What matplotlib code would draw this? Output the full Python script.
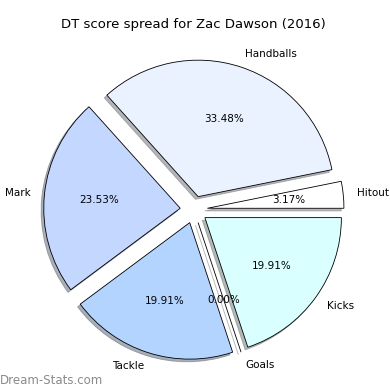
import matplotlib
matplotlib.use('Agg')
import matplotlib.pyplot as plt

labels = ['Hitout', 'Handballs', 'Mark', 'Tackle', 'Goals', 'Kicks']
points = [7, 74, 52, 44, 0, 44]
colors = ['#ffffff', '#eaf1ff', '#c4d7ff', '#b3d4ff', '#c8e8ff', '#d9ffff']
explode = [0.1] * len(labels)

fig = plt.figure(figsize=(3.9, 3.9), dpi=100)
ax = fig.add_axes([0.052, 0.025, 0.89, 0.875])

wedges, texts, autotexts = ax.pie(points, labels=labels, colors=colors, explode=explode,
                                  autopct='%1.2f%%', startangle=0,
                                  shadow=dict(ox=-0.014, oy=-0.014, shade=0.55),
                                  wedgeprops=dict(edgecolor='black', linewidth=0.6),
                                  textprops=dict(fontsize=7.5))
ax.set_aspect('equal')
ax.set_title('DT score spread for Zac Dawson (2016)', fontsize=9.5, pad=8)

fig.text(0.0, 0.015, 'Dream-Stats.com', fontsize=8.5, color='#8a8a8a')

fig.savefig('out.png', dpi=100, facecolor='white')
